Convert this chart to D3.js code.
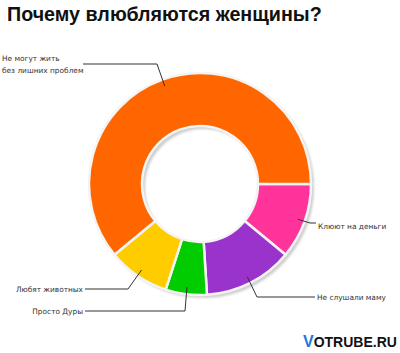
<!DOCTYPE html>
<html><head><meta charset="utf-8">
<script src="https://cdn.jsdelivr.net/npm/d3@7"></script>
<style>body{margin:0;background:#fff}svg{display:block}</style>
</head><body>
<svg id="c" width="400" height="353"></svg>
<script>
const title = "Почему влюбляются женщины?";
const categories = ["Клюют на деньги", "Не слушали маму", "Просто Дуры", "Любят животных", "Не могут жить\nбез лишних проблем"];
const values = [11, 13, 6, 9, 61];
const colors = ["#ff3399", "#9933cc", "#00cc00", "#ffcc00", "#ff6600"];

// label layout: elbow and text anchor points (layout only)
const labelLayout = [
  {elbow: [310, 223], text: [318, 229], anchor: "start"},
  {elbow: [257, 297], text: [317, 300], anchor: "start"},
  {elbow: [185, 311], text: [83, 314], anchor: "end"},
  {elbow: [128, 289], text: [83, 292], anchor: "end"},
  {elbow: [157, 64], text: [2, 61], anchor: "start", lineEnd: 83}
];

const svg = d3.select("#c");
const cx = 200, cy = 184, rOuter = 111, rInner = 58;

const t = svg.append("text").attr("x", 7).attr("y", 21)
  .attr("font-family", "Liberation Sans, Arial, sans-serif").attr("font-weight", "bold")
  .attr("font-size", 19).attr("fill", "#111").text(title);
const w = t.node().getComputedTextLength();
t.attr("font-size", 19 * 315 / w);

const pie = d3.pie().sort(null).value(d => d).startAngle(Math.PI / 2).endAngle(Math.PI / 2 + 2 * Math.PI);
const arcs = pie(values);
const arc = d3.arc().innerRadius(rInner).outerRadius(rOuter);

const g = svg.append("g").attr("transform", `translate(${cx},${cy})`);
const defs = svg.append("defs");
defs.append("filter").attr("id", "blur").append("feGaussianBlur").attr("stdDeviation", 1.2);

g.append("g").attr("transform", "translate(3,3)").attr("filter", "url(#blur)")
  .selectAll("path").data(arcs).join("path").attr("d", arc).attr("fill", "#cfcfcf");
g.append("g").selectAll("path").data(arcs).join("path").attr("d", arc)
  .attr("fill", (d, i) => colors[i]).attr("stroke", "#f4f4f4").attr("stroke-width", 2.5);

// leader lines
const lg = svg.append("g");
arcs.forEach((a, i) => {
  const mid = (a.startAngle + a.endAngle) / 2;
  const ax = cx + 104 * Math.sin(mid), ay = cy - 104 * Math.cos(mid);
  const L = labelLayout[i];
  let endX;
  if (L.lineEnd !== undefined) endX = L.lineEnd;
  else endX = L.anchor === "start" ? L.text[0] - 2 : L.text[0] + 2;
  const endY = L.elbow[1];
  lg.append("path").attr("d", d3.line()([[ax, ay], L.elbow, [endX, endY]]))
    .attr("fill", "none").attr("stroke", "#333").attr("stroke-width", 1);
  const lines = categories[i].split("\n");
  const tx = lg.append("text").attr("x", L.text[0]).attr("y", L.text[1])
    .attr("text-anchor", L.anchor).attr("font-family", "DejaVu Sans, Verdana, sans-serif")
    .attr("font-size", 7.4).attr("fill", "#333");
  lines.forEach((s, k) => tx.append("tspan").attr("x", L.text[0]).attr("dy", k ? 12 : 0).text(s));
});

// watermark
const wm = svg.append("text").attr("x", 303).attr("y", 347)
  .attr("font-family", "Liberation Sans, Arial, sans-serif").attr("font-weight", "bold")
  .attr("font-size", 14).attr("fill", "#111");
wm.append("tspan").attr("fill", "#1a7ad8").attr("font-size", 16).text("V");
wm.append("tspan").text("OTRUBE.RU");
</script>
</body></html>
